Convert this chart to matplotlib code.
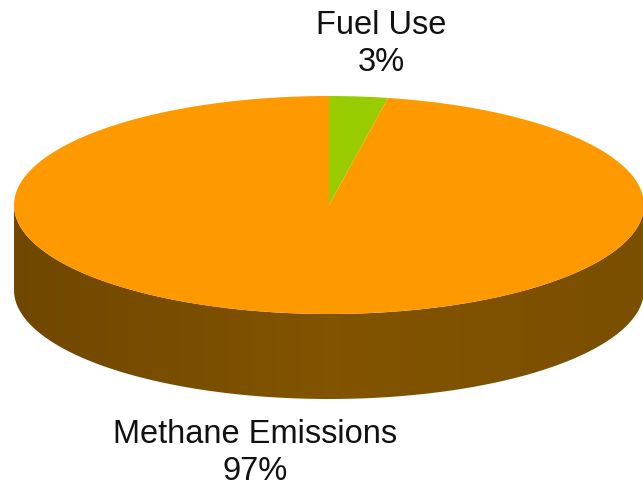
import matplotlib.pyplot as plt
import numpy as np
from matplotlib.patches import Polygon

labels = ["Fuel Use", "Methane Emissions"]
shares = [3, 97]
colors = ["#99CC00", "#FF9900"]
label_pos = [(381, 44), (255, 453)]

# pie drawn in pixel space: centre, radii and thickness of the disc
cx, cy = 329, 205
rx, ry = 315, 109
depth = 85


def ellipse_pts(t0, t1, n=200, dy=0):
    t = np.radians(np.linspace(t0, t1, n))
    return np.column_stack([cx + rx * np.cos(t), cy - ry * np.sin(t) + dy])


def main():
    fig = plt.figure(figsize=(6.43, 4.91), dpi=100)
    ax = fig.add_axes([0, 0, 1, 1])
    ax.set_xlim(0, 643)
    ax.set_ylim(491, 0)
    ax.axis("off")

    # side wall of the disc (front half only)
    top = ellipse_pts(180, 360)
    bottom = ellipse_pts(360, 180, dy=depth)
    side = Polygon(np.vstack([top, bottom]), closed=True, facecolor="none",
                   edgecolor="none")
    ax.add_patch(side)
    grad = np.linspace(0, 1, 256)
    shade = np.array([[0.44, 0.28, 0.0], [0.51, 0.33, 0.0], [0.48, 0.31, 0.0]])
    xs = np.linspace(0, 1, len(shade))
    img = np.stack([np.interp(grad, xs, shade[:, k]) for k in range(3)], axis=-1)
    im = ax.imshow(img[None, :, :], extent=(cx - rx, cx + rx, cy + ry + depth, cy),
                   aspect="auto", zorder=1)
    im.set_clip_path(side)

    # top face: wedges start at 12 o'clock and run clockwise
    start = 90.0
    for share, col in zip(shares, colors):
        sweep = 360.0 * share / sum(shares)
        arc = ellipse_pts(start - sweep, start)
        pts = np.vstack([[cx, cy], arc])
        ax.add_patch(Polygon(pts, closed=True, facecolor=col, edgecolor="none",
                             zorder=2))
        start -= sweep

    for lab, share, (x, y) in zip(labels, shares, label_pos):
        ax.text(x, y, f"{lab}\n{share}%", ha="center", va="center",
                fontsize=23.5, family="Liberation Sans", color="#111111",
                linespacing=1.25)

    fig.savefig("out.png", dpi=100)


if __name__ == "__main__":
    main()
